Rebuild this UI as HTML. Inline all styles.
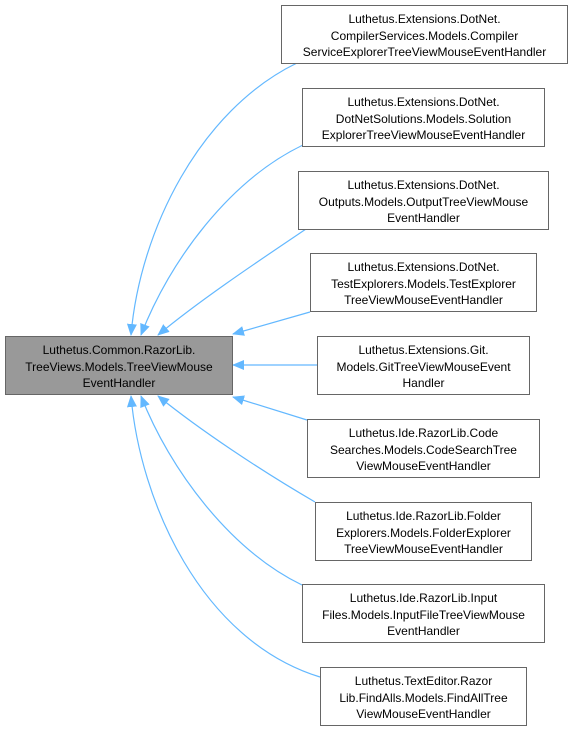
<!DOCTYPE html>
<html><head><style>
body{margin:0;background:#fff;width:572px;height:731px;position:relative;overflow:hidden;font-family:"Liberation Sans",Arial,sans-serif;font-size:12px;}
.b{position:absolute;box-sizing:border-box;border:1px solid #666;background:#fff;height:59px;text-align:center;line-height:16.5px;padding-top:5px;color:#000;white-space:nowrap}
.m{background:#999;}
</style></head><body>
<svg width="572" height="731" style="position:absolute;left:0;top:0">
<defs><marker id="a" markerWidth="12" markerHeight="10" refX="11" refY="5" orient="auto" markerUnits="userSpaceOnUse"><path d="M0,0 L12,5 L0,10 Z" fill="#63b8ff"/></marker></defs>
<g fill="none" stroke="#63b8ff" stroke-width="1.2" marker-end="url(#a)">
<path d="M297,63 C200,110 140,230 131,335"/>
<path d="M303,145 C230,180 170,260 141,335"/>
<path d="M306,229 C260,260 200,300 158,335"/>
<path d="M310,312 L233,334"/>
<path d="M317,365 L233,365"/>
<path d="M307,420 L233,397"/>
<path d="M315,502 C260,470 200,430 158,396"/>
<path d="M302,585 C230,550 170,470 141,396"/>
<path d="M320,677 C200,640 140,500 131,396"/>
</g>
</svg>
<div class="b m" style="left:5px;top:336px;width:228px">Luthetus.Common.RazorLib.<br>TreeViews.Models.TreeViewMouse<br>EventHandler</div>
<div class="b" style="left:281px;top:5px;width:287px">Luthetus.Extensions.DotNet.<br>CompilerServices.Models.Compiler<br>ServiceExplorerTreeViewMouseEventHandler</div>
<div class="b" style="left:302px;top:88px;width:243px">Luthetus.Extensions.DotNet.<br>DotNetSolutions.Models.Solution<br>ExplorerTreeViewMouseEventHandler</div>
<div class="b" style="left:298px;top:171px;width:251px">Luthetus.Extensions.DotNet.<br>Outputs.Models.OutputTreeViewMouse<br>EventHandler</div>
<div class="b" style="left:310px;top:253px;width:227px">Luthetus.Extensions.DotNet.<br>TestExplorers.Models.TestExplorer<br>TreeViewMouseEventHandler</div>
<div class="b" style="left:317px;top:336px;width:213px">Luthetus.Extensions.Git.<br>Models.GitTreeViewMouseEvent<br>Handler</div>
<div class="b" style="left:307px;top:419px;width:233px">Luthetus.Ide.RazorLib.Code<br>Searches.Models.CodeSearchTree<br>ViewMouseEventHandler</div>
<div class="b" style="left:315px;top:502px;width:217px">Luthetus.Ide.RazorLib.Folder<br>Explorers.Models.FolderExplorer<br>TreeViewMouseEventHandler</div>
<div class="b" style="left:302px;top:584px;width:243px">Luthetus.Ide.RazorLib.Input<br>Files.Models.InputFileTreeViewMouse<br>EventHandler</div>
<div class="b" style="left:320px;top:667px;width:207px">Luthetus.TextEditor.Razor<br>Lib.FindAlls.Models.FindAllTree<br>ViewMouseEventHandler</div>
</body></html>
